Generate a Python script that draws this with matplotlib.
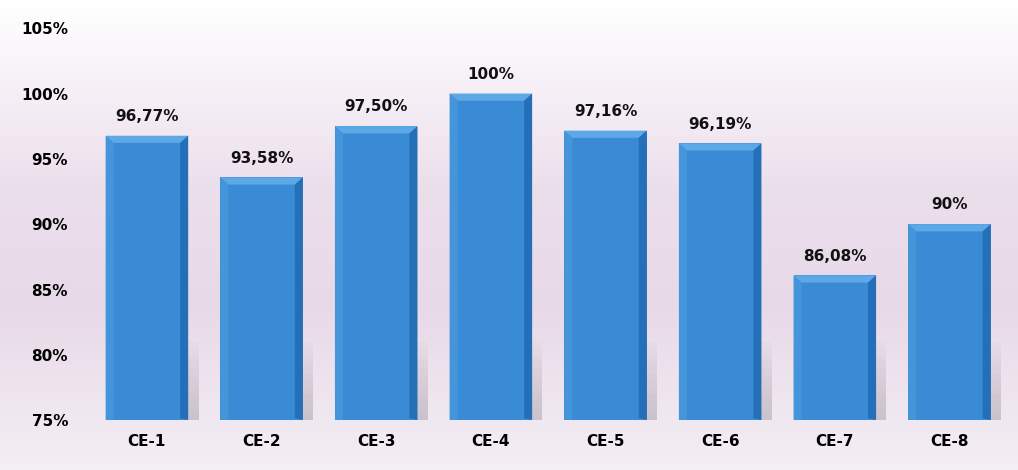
import numpy as np
import matplotlib
matplotlib.use("Agg")
import matplotlib.pyplot as plt
from matplotlib.colors import LinearSegmentedColormap

# data
categories = ["CE-1", "CE-2", "CE-3", "CE-4", "CE-5", "CE-6", "CE-7", "CE-8"]
values = [96.77, 93.58, 97.50, 100.0, 97.16, 96.19, 86.08, 90.0]
labels = ["96,77%", "93,58%", "97,50%", "100%", "97,16%", "96,19%", "86,08%", "90%"]
yticks = [75, 80, 85, 90, 95, 100, 105]

fig = plt.figure(figsize=(10.18, 4.70), dpi=100)

# pinkish background gradient over whole figure
bg = fig.add_axes([0, 0, 1, 1], zorder=-10)
grad_cmap = LinearSegmentedColormap.from_list(
    "bg", [(0.0, "#f4eff4"), (0.35, "#e8d9e8"), (0.6, "#ecdfec"), (1.0, "#ffffff")])
bg.imshow(np.linspace(0, 1, 256).reshape(-1, 1), aspect="auto", cmap=grad_cmap,
          origin="lower", extent=[0, 1, 0, 1])
bg.axis("off")

ax = fig.add_axes([0.088, 0.106, 0.901, 0.834])
ax.patch.set_alpha(0)

x = np.arange(len(categories))
w = 0.72
base = 75
ax.bar(x, [v - base for v in values], width=w, bottom=base, color="#3a8bd5", zorder=2)

# bevels: lighter top band, darker right band, soft floor shadow
bev_x = 0.07
bev_y = 0.55
for xi, v, lab in zip(x, values, labels):
    l, r = xi - w / 2, xi + w / 2
    ax.fill([l, r, r - bev_x, l + bev_x], [v, v, v - bev_y, v - bev_y],
            color="#5fa8e8", zorder=3, lw=0)
    ax.fill([r, r, r - bev_x, r - bev_x], [v, base, base + bev_y * 0.3, v - bev_y],
            color="#256fb8", zorder=3, lw=0)
    ax.fill([l, l + bev_x, l + bev_x, l], [v, v - bev_y, base, base],
            color="#4595da", zorder=3, lw=0)
    # fading shadow behind the bar foot
    for k in range(12):
        ax.fill([r, r + 0.09, r + 0.09, r],
                [base, base, base + 6 * (1 - k / 12), base + 6 * (1 - k / 12)],
                color="#a9a2b0", alpha=0.05, zorder=1, lw=0)
    ax.text(xi, v + 0.9, lab, ha="center", va="bottom",
            fontsize=11, fontweight="bold", color="#111111")

ax.set_xlim(-0.5, len(categories) - 0.5)
ax.set_ylim(75, 105)
ax.set_yticks(yticks)
ax.set_yticklabels([f"{t}%" for t in yticks], fontsize=11, fontweight="bold")
ax.set_xticks(x)
ax.set_xticklabels(categories, fontsize=11, fontweight="bold")
ax.tick_params(axis="y", length=0, pad=15.5)
ax.tick_params(axis="x", length=0, pad=10)
for s in ax.spines.values():
    s.set_visible(False)

fig.savefig("out.png", dpi=100)
